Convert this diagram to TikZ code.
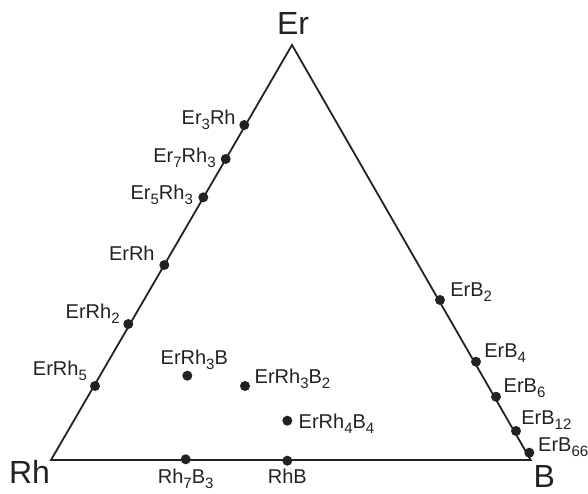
\documentclass[tikz,border=0pt]{standalone}
\usepackage{fontspec}
\setmainfont{Liberation Sans}
\usetikzlibrary{positioning}
\definecolor{ink}{HTML}{222222}
\newcommand{\ix}[1]{\raisebox{-5pt}{\fontsize{15}{15}\selectfont #1}}

\begin{document}
\begin{tikzpicture}[
  x=1pt, y=-1pt,
  phase/.style={circle, fill=ink, inner sep=0pt, minimum size=10pt},
  lbl/.style={font=\fontsize{20}{22}\selectfont, text=ink, inner sep=0pt,
              text height=14pt, text depth=4pt},
  corner/.style={font=\fontsize{32}{34}\selectfont, text=ink, inner sep=0pt,
                 text height=24pt, text depth=0pt},
  edge/.style={draw=ink, line width=1.8pt, line join=miter}
]
  \useasboundingbox (0,0) rectangle (588,493);

  % Triangle
  \coordinate (Er) at (292,45);
  \coordinate (Rh) at (51,460);
  \coordinate (B) at (530.7,460);
  \draw[edge] (Er) -- (B) -- (Rh) -- cycle;

  \node[corner, above=10pt of Er, xshift=1pt] (erlbl) {Er};
  \node[corner, below=-0.7pt of Rh, xshift=-21.5pt] (rhlbl) {Rh};
  \node[corner, below=3.3pt of B, xshift=13.5pt] (blbl) {B};

  % Er--Rh side
  \node[phase] (er3rh) at (244.3,125) {};
  \node[lbl, base left=3.3pt of er3rh, yshift=1pt] (er3rhlbl) {Er\ix{3}Rh};
  \node[phase] (er7rh3) at (225.7,159) {};
  \node[lbl, base left=4.7pt of er7rh3, yshift=-3pt] (er7rh3lbl) {Er\ix{7}Rh\ix{3}};
  \node[phase] (er5rh3) at (203.3,197.3) {};
  \node[lbl, base left=5pt of er5rh3, yshift=-2pt] (er5rh3lbl) {Er\ix{5}Rh\ix{3}};
  \node[phase] (errh) at (164.3,265) {};
  \node[lbl, base left=4.3pt of errh, yshift=5pt] (errhlbl) {ErRh};
  \node[phase] (errh2) at (128.3,324) {};
  \node[lbl, base left=3.3pt of errh2, yshift=5.7pt] (errh2lbl) {ErRh\ix{2}};
  \node[phase] (errh5) at (95,386) {};
  \node[lbl, base left=2.7pt of errh5, yshift=11pt] (errh5lbl) {ErRh\ix{5}};

  % Ternary phases
  \node[phase] (t1) at (187.3,375.7) {};
  \node[lbl, above=1.7pt of t1, xshift=7pt] (t1lbl) {ErRh\ix{3}B};
  \node[phase] (t2) at (245,386) {};
  \node[lbl, base right=4.3pt of t2, yshift=3pt] (t2lbl) {ErRh\ix{3}B\ix{2}};
  \node[phase] (t3) at (287.3,420.7) {};
  \node[lbl, base right=6pt of t3, yshift=-7.6pt] (t3lbl) {ErRh\ix{4}B\ix{4}};

  % Rh--B side
  \node[phase] (rh7b3) at (185.7,459.3) {};
  \node[lbl, below=5pt of rh7b3] (rh7b3lbl) {Rh\ix{7}B\ix{3}};
  \node[phase] (rhb) at (287.3,460.7) {};
  \node[lbl, below=3.6pt of rhb] (rhblbl) {RhB};

  % Er--B side
  \node[phase] (erb2) at (440,300) {};
  \node[lbl, base right=5pt of erb2, yshift=3.3pt] (erb2lbl) {ErB\ix{2}};
  \node[phase] (erb4) at (476,361.7) {};
  \node[lbl, base right=3pt of erb4, yshift=4.4pt] (erb4lbl) {ErB\ix{4}};
  \node[phase] (erb6) at (496,396.7) {};
  \node[lbl, base right=2.3pt of erb6, yshift=4pt] (erb6lbl) {ErB\ix{6}};
  \node[phase] (erb12) at (516,431) {};
  \node[lbl, base right=0pt of erb12, yshift=7pt] (erb12lbl) {ErB\ix{12}};
  \node[phase] (erb66) at (529.3,452.7) {};
  \node[lbl, base right=3.5pt of erb66, yshift=1pt] (erb66lbl) {ErB\ix{66}};

\end{tikzpicture}
\end{document}
